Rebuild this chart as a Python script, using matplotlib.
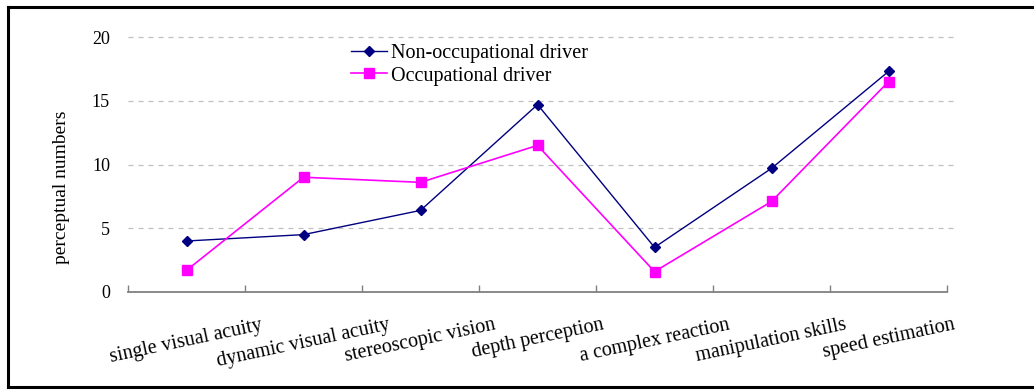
import matplotlib
matplotlib.use("Agg")
import matplotlib.pyplot as plt
from matplotlib.lines import Line2D
import numpy as np

categories = [
    "single visual acuity",
    "dynamic visual acuity",
    "stereoscopic vision",
    "depth perception",
    "a complex reaction",
    "manipulation skills",
    "speed estimation",
]
non_occupational = [4.0, 4.5, 6.4, 14.7, 3.5, 9.7, 17.3]
occupational = [1.7, 9.0, 8.6, 11.5, 1.6, 7.1, 16.5]
y_ticks = [0, 5, 10, 15, 20]

plt.rcParams["font.family"] = ["Liberation Serif", "DejaVu Serif"]

fig = plt.figure(figsize=(10.34, 3.90), dpi=100)
ax = fig.add_axes([0.1238, 0.2513, 0.7921, 0.6538])

x = np.arange(len(categories))
ax.plot(x, non_occupational, color="#000080", lw=1.0, marker="D", ms=5,
        mfc="#000080", mec="#000080", label="Non-occupational driver", zorder=3)
ax.plot(x, occupational, color="#FF00FF", lw=1.2, marker="s", ms=6.5,
        mfc="#FF00FF", mec="#FF00FF", label="Occupational driver", zorder=3)

ax.set_xlim(-0.5, len(categories) - 0.5)
ax.set_ylim(0, 20)

# dashed horizontal grid, running slightly beyond the last category
for v in y_ticks[1:]:
    ax.axhline(v, xmin=0, xmax=1.011, color="#c0c0c0", lw=0.9,
               ls=(0, (4, 4)), clip_on=False, zorder=1)

for s in ["top", "right", "left"]:
    ax.spines[s].set_visible(False)
ax.spines["bottom"].set_color("#808080")
ax.spines["bottom"].set_linewidth(1.3)

ax.set_yticks(y_ticks)
ax.set_yticklabels([str(v) for v in y_ticks], fontsize=13)
ax.tick_params(axis="y", length=0, pad=13)

# category boundaries carry the tick marks, category centres carry the labels
ax.set_xticks(np.arange(len(categories) + 1) - 0.5)
ax.set_xticklabels([])
ax.tick_params(axis="x", which="major", direction="in", length=5,
               color="#808080", width=1.0)
ax.set_xticks(x, minor=True)
ax.set_xticklabels(categories, minor=True, rotation=12, ha="center",
                   fontsize=14.5, rotation_mode="default")
ax.tick_params(axis="x", which="minor", length=0, pad=17)

ax.set_ylabel("perceptual numbers", fontsize=14)
ax.yaxis.set_label_coords(-0.071, 0.41)

leg = ax.legend(loc="upper left", bbox_to_anchor=(0.262, 1.003), frameon=False,
                fontsize=14.5, handlelength=1.8, handletextpad=0.2,
                labelspacing=0.15, borderaxespad=0)

# outer frame around the figure (top, left, bottom)
frame = dict(color="black", lw=2.2, transform=fig.transFigure)
fig.add_artist(Line2D([7.5 / 1034, 1.0], [1 - 7 / 390, 1 - 7 / 390], **frame))
fig.add_artist(Line2D([7.5 / 1034, 7.5 / 1034], [1 - 7 / 390, 1 - 387 / 390], **frame))
fig.add_artist(Line2D([7.5 / 1034, 1.0], [1 - 387 / 390, 1 - 387 / 390], **frame))

fig.savefig("out.png", dpi=100)
